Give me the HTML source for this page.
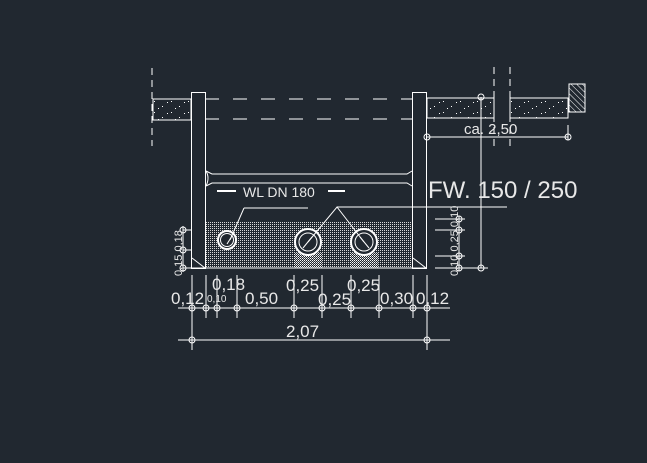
<!DOCTYPE html>
<html><head><style>
html,body{margin:0;padding:0;background:#212830;}
svg{display:block;}
text{font-family:"Liberation Sans",sans-serif;fill:#e8e8e8;}
</style></head><body>
<svg width="647" height="463" viewBox="0 0 647 463" xmlns="http://www.w3.org/2000/svg">
<defs>
<pattern id="dots" width="2" height="2" patternUnits="userSpaceOnUse"><rect width="1" height="1" fill="#d8d8d8"/></pattern>
<pattern id="spk" width="17" height="11" patternUnits="userSpaceOnUse"><rect x="1" y="2" width="1" height="1" fill="#fff"/><rect x="9" y="7" width="1" height="1" fill="#fff"/><rect x="14" y="3" width="1" height="1" fill="#fff"/><rect x="5" y="9" width="1" height="1" fill="#fff"/></pattern>
<pattern id="hatch" width="4" height="4" patternUnits="userSpaceOnUse" patternTransform="rotate(-45)"><line x1="0" y1="0" x2="0" y2="4" stroke="#fff" stroke-width="1"/></pattern>
<pattern id="dense" width="2" height="2" patternUnits="userSpaceOnUse"><rect width="1" height="1" fill="#fff"/><rect x="1" y="1" width="1" height="1" fill="#bbb"/></pattern>
</defs>
<g stroke="#fff" stroke-width="1" fill="none">
<line x1="152" y1="68" x2="152" y2="146" stroke-dasharray="7,5"/>
<line x1="494" y1="67" x2="494" y2="146" stroke-dasharray="7,5"/>
<line x1="510" y1="67" x2="510" y2="146" stroke-dasharray="7,5"/>
<rect x="153" y="99" width="38" height="21" fill="url(#spk)"/>
<rect x="427" y="98" width="67" height="20" fill="url(#spk)"/>
<rect x="510" y="98" width="58" height="20" fill="url(#spk)"/>
<rect x="569" y="84" width="16" height="28" fill="url(#hatch)"/>
<line x1="205" y1="99" x2="413" y2="99" stroke-dasharray="14,14"/>
<line x1="205" y1="119" x2="413" y2="119" stroke-dasharray="14,14"/>
<rect x="205" y="221" width="208" height="47" fill="url(#dots)" stroke="none"/>
<rect x="294" y="253" width="28" height="15" fill="url(#dense)" stroke="none"/>
<rect x="350" y="253" width="28" height="15" fill="url(#dense)" stroke="none"/>
<rect x="191.5" y="92.5" width="14" height="176" fill="#212830"/>
<rect x="412.5" y="92.5" width="14" height="176" fill="#212830"/>
<line x1="192" y1="258" x2="205" y2="268"/>
<line x1="413" y1="258" x2="426" y2="268"/>
<path d="M206 171 L212 174 L407 174 L412 171"/>
<path d="M206 186 L212 183 L407 183 L412 186"/>
<path d="M206 171 Q210 178 206 186"/>
<line x1="217" y1="191" x2="236" y2="191" stroke-width="2"/>
<line x1="328" y1="191" x2="345" y2="191" stroke-width="2"/>
<circle cx="227" cy="240" r="9" fill="#212830" stroke-width="2"/>
<circle cx="227" cy="240" r="6.5"/>
<circle cx="308" cy="242" r="13" fill="#212830" stroke-width="2"/>
<circle cx="308" cy="242" r="9"/>
<circle cx="364" cy="242" r="13" fill="#212830" stroke-width="2"/>
<circle cx="364" cy="242" r="9"/>
<line x1="227" y1="244" x2="232" y2="236"/>
<line x1="303" y1="248" x2="312" y2="237"/>
<line x1="369" y1="248" x2="360" y2="237"/>
<path d="M244 208 L230 240"/>
<line x1="244" y1="208" x2="308" y2="208"/>
<path d="M308 242 L337 207 L364 242"/>
<line x1="337" y1="207" x2="507" y2="207"/>
<line x1="190" y1="268" x2="427" y2="268"/>
<line x1="481" y1="97" x2="481" y2="268"/>
<line x1="475" y1="268" x2="488" y2="268"/>
<circle cx="481" cy="97" r="3"/><circle cx="481" cy="268" r="3"/>
<line x1="427" y1="137" x2="568" y2="137"/>
<line x1="568" y1="125" x2="568" y2="140"/>
<circle cx="427" cy="137" r="3"/><circle cx="568" cy="137" r="3"/>
<line x1="435" y1="219" x2="465" y2="219"/><line x1="435" y1="230" x2="465" y2="230"/>
<line x1="435" y1="256" x2="465" y2="256"/><line x1="435" y1="268" x2="488" y2="268"/>
<line x1="459" y1="216" x2="459" y2="271"/>
<circle cx="459" cy="219" r="3"/><circle cx="459" cy="230" r="3"/><circle cx="459" cy="256" r="3"/><circle cx="459" cy="268" r="3"/>
<line x1="183" y1="226" x2="183" y2="272"/>
<line x1="183" y1="230" x2="192" y2="230"/><line x1="183" y1="250" x2="192" y2="250"/><line x1="183" y1="268" x2="192" y2="268"/>
<circle cx="183" cy="230" r="3"/><circle cx="183" cy="250" r="3"/><circle cx="183" cy="268" r="3"/>
<line x1="178" y1="308" x2="450" y2="308"/>
<line x1="192" y1="275" x2="192" y2="318"/><line x1="206" y1="275" x2="206" y2="318"/>
<line x1="217" y1="275" x2="217" y2="318"/><line x1="237" y1="275" x2="237" y2="318"/>
<line x1="294" y1="275" x2="294" y2="318"/><line x1="322" y1="275" x2="322" y2="318"/>
<line x1="351" y1="275" x2="351" y2="318"/><line x1="379" y1="275" x2="379" y2="318"/>
<line x1="413" y1="275" x2="413" y2="318"/><line x1="427" y1="275" x2="427" y2="350"/>
<line x1="192" y1="318" x2="192" y2="350"/>
<circle cx="192" cy="308" r="3"/><circle cx="206" cy="308" r="3"/><circle cx="217" cy="308" r="3"/><circle cx="237" cy="308" r="3"/><circle cx="294" cy="308" r="3"/><circle cx="322" cy="308" r="3"/><circle cx="351" cy="308" r="3"/><circle cx="379" cy="308" r="3"/><circle cx="413" cy="308" r="3"/><circle cx="427" cy="308" r="3"/>
<line x1="178" y1="340" x2="450" y2="340"/>
<circle cx="192" cy="340" r="3"/><circle cx="427" cy="340" r="3"/>
</g>
<text x="243" y="197" font-size="14">WL DN 180</text>
<text x="428" y="198" font-size="24">FW. 150 / 250</text>
<text x="464" y="134" font-size="15">ca. 2,50</text>
<text x="171" y="304" font-size="17">0,12</text>
<text x="207" y="302" font-size="10">0,10</text>
<text x="212" y="290" font-size="17">0,18</text>
<text x="245" y="304" font-size="17">0,50</text>
<text x="286" y="291" font-size="17">0,25</text>
<text x="318" y="305" font-size="17">0,25</text>
<text x="347" y="291" font-size="17">0,25</text>
<text x="380" y="304" font-size="17">0,30</text>
<text x="416" y="304" font-size="17">0,12</text>
<text x="286" y="337" font-size="17">2,07</text>
<text transform="translate(182,276) rotate(-90)" font-size="11">0,15 0,18</text>
<text transform="translate(458,276) rotate(-90)" font-size="11">0,10 0,25 0,10</text>
</svg>
</body></html>
